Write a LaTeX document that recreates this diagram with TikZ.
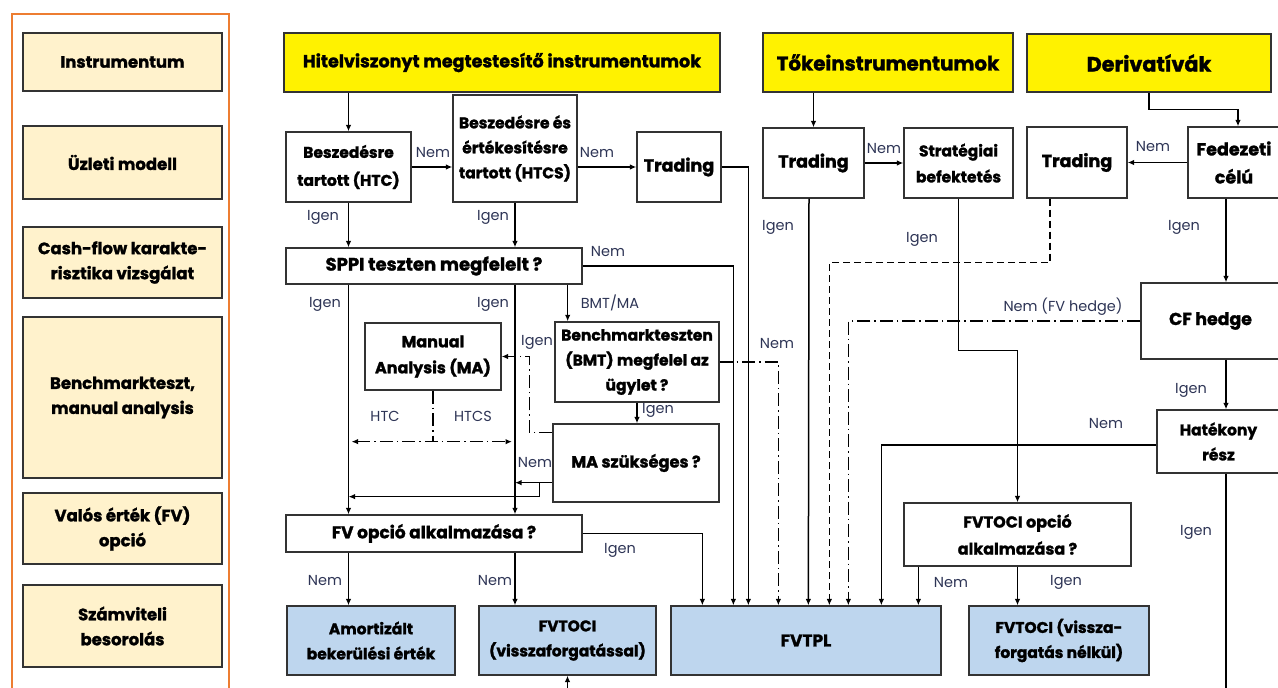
\documentclass[tikz,border=0pt]{standalone}
\usepackage{fontspec}
\setmainfont{Poppins}[BoldFeatures={FakeBold=1.5}]
\usetikzlibrary{arrows.meta,positioning,calc}

\definecolor{frameor}{RGB}{237,125,49}
\definecolor{cream}{RGB}{255,242,204}
\definecolor{resblue}{RGB}{190,214,238}
\definecolor{labtext}{RGB}{45,52,85}

\tikzset{
  box/.style={draw=black!80, line width=1.3pt, fill=white, align=center, inner sep=1pt,
    font=\bfseries\fontsize{15.5}{25}\selectfont},
  ybox/.style={box, fill=yellow},
  lbox/.style={box, fill=cream, minimum width=199pt, font=\bfseries\fontsize{16.5}{25}\selectfont},
  rbox/.style={box, fill=resblue},
  lab/.style={font=\fontsize{14.5}{16}\selectfont, text=labtext, inner sep=0pt},
  conn/.style={line width=1.5pt, ->},
  ddline/.style={line width=1.5pt, dash pattern=on 13pt off 4pt on 1.5pt off 4pt},
  dline/.style={line width=1.5pt, dash pattern=on 7pt off 4pt},
}

\begin{document}
\begin{tikzpicture}[x=1pt, y=-1pt, >={Latex[length=6.5pt,width=5.5pt]}]
  \useasboundingbox (0,0) rectangle (1278,688);
  % left column
  \draw[frameor, line width=2.5pt] (12,14) rectangle (229,700);
  \foreach \n/\y/\h/\t in {1/62/58/Instrumentum, 2/162.5/73/{Üzleti modell},
      3/262.5/71/{Cash-flow karakte-\\risztika vizsgálat}, 4/397.5/161/{Benchmarkteszt,\\manual analysis},
      5/528.5/71/{Valós érték (FV)\\opció}, 6/626/82/{Számviteli\\besorolás}}
    \node[lbox, minimum height=\h pt] (l\n) at (122.5,\y) {\t};

  % instrument groups
  \node[ybox, minimum width=436pt, minimum height=59pt, font=\bfseries\fontsize{17.5}{20}\selectfont] (hit) at (502,62.5) {Hitelviszonyt megtestesítő instrumentumok};
  \node[ybox, minimum width=250pt, minimum height=59pt, font=\bfseries\fontsize{19.8}{22}\selectfont] (toke) at (888,62.5) {Tőkeinstrumentumok};
  \node[ybox, minimum width=244pt, minimum height=58pt, font=\bfseries\fontsize{20.7}{22}\selectfont] (deriv) at (1149,63) {Derivatívák};

  % business model
  \node[box, minimum width=125pt, minimum height=70pt, font=\bfseries\fontsize{15.5}{28}\selectfont] (htc) at (348.5,167) {Beszedésre\\tartott (HTC)};
  \node[box, minimum width=124pt, minimum height=107pt] (htcs) at (515,148.5) {Beszedésre és\\értékesítésre\\tartott (HTCS)};
  \node[box, minimum width=84pt, minimum height=70pt, font=\bfseries\fontsize{17.5}{20}\selectfont] (trad1) at (679,167) {Trading};
  \node[box, minimum width=101pt, minimum height=70pt, font=\bfseries\fontsize{17.5}{20}\selectfont] (trad2) at (813.5,163) {Trading};
  \node[box, minimum width=109pt, minimum height=70pt, font=\bfseries\fontsize{15.5}{26}\selectfont] (strat) at (958.5,163) {Stratégiai\\befektetés};
  \node[box, minimum width=100pt, minimum height=71pt, font=\bfseries\fontsize{17.5}{20}\selectfont] (trad3) at (1077,162.5) {Trading};
  \node[box, minimum width=92pt, minimum height=71pt, font=\bfseries\fontsize{17.5}{28}\selectfont] (fed) at (1234,162.5) {Fedezeti\\célú};

  % tests
  \node[box, minimum width=296pt, minimum height=36pt, font=\bfseries\fontsize{18}{20}\selectfont] (sppi) at (434,266) {SPPI teszten megfelelt ?};
  \node[box, minimum width=136pt, minimum height=67pt, font=\bfseries\fontsize{16}{26}\selectfont] (ma) at (433,356.5) {Manual\\Analysis (MA)};
  \node[box, minimum width=164pt, minimum height=80pt] (bmt) at (637,362) {Benchmarkteszten\\(BMT) megfelel az\\ügylet ?};
  \node[box, minimum width=166pt, minimum height=78pt, font=\bfseries\fontsize{16.2}{20}\selectfont] (masz) at (636,463) {MA szükséges ?};
  \node[box, minimum width=139pt, minimum height=76pt, font=\bfseries\fontsize{17.3}{20}\selectfont] (cf) at (1210.5,321) {CF hedge};
  \node[box, minimum width=123pt, minimum height=63pt] (hat) at (1218.5,441.5) {Hatékony\\rész};
  \node[box, minimum width=296pt, minimum height=37pt, font=\bfseries\fontsize{17}{20}\selectfont] (fvop) at (434,533.5) {FV opció alkalmazása ?};
  \node[box, minimum width=227pt, minimum height=63pt, font=\bfseries\fontsize{16}{27}\selectfont] (fvtociop) at (1017.5,534.5) {FVTOCI opció\\alkalmazása ?};

  % classification
  \node[rbox, minimum width=168pt, minimum height=69pt] (amort) at (371,640.5) {Amortizált\\bekerülési érték};
  \node[rbox, minimum width=177pt, minimum height=69pt] (fvtoci) at (567.5,640.5) {FVTOCI\\(visszaforgatással)};
  \node[rbox, minimum width=270pt, minimum height=69pt, font=\bfseries\fontsize{17}{20}\selectfont] (fvtpl) at (806,640.5) {FVTPL};
  \node[rbox, minimum width=180pt, minimum height=69pt] (fvtociv) at (1059,640.5) {FVTOCI (vissza-\\forgatás nélkül)};

  % debt instruments
  \draw[conn] (hit.south -| htc.north) -- (htc.north);
  \draw[conn] (htc.east) -- (htc.east -| htcs.west);
  \draw[conn] (htcs.east |- trad1) -- (trad1.west);
  \draw[conn] (trad1.east) -| ($(fvtpl.north west)+(78,0)$);
  \draw[conn] (htc.south) -- (htc.south |- sppi.north);
  \draw[conn] (htcs.south) -- (htcs.south |- sppi.north);
  \draw[conn] (sppi.east) -| ($(fvtpl.north west)+(63,0)$);
  \draw[conn] (sppi.south -| htc.south) -- (fvop.north -| htc.south);
  \draw[conn] (sppi.south -| htcs.south) -- (fvop.north -| htcs.south);
  \coordinate (bm) at ($(sppi.south east)+(-15,0)$);
  \draw[conn] (bm) -- (bm |- bmt.north);
  \draw[conn] (bmt.south) -- (bmt.south |- masz.north);
  \draw[ddline, ->] ($(masz.north west)+(0,9)$) -- ++(-23,0) |- (ma.east);
  \draw[ddline] (ma.south) -- ++(0,51) coordinate (mb);
  \draw[ddline, <->, shorten <=3pt, shorten >=3pt] (mb -| htc.south) -- (mb -| htcs.south);
  \coordinate (mn) at ($(masz.south west)+(0,-20)$);
  \draw[conn] (mn) -- (mn -| htcs.south);
  \draw[conn] ($(mn)+(-13,0)$) -- ++(0,14) coordinate (mm) -- (mm -| htc.south);
  \draw[ddline, ->] (bmt.east) -| ($(fvtpl.north west)+(108,0)$);
  \draw[conn] (fvop.east) -| ($(fvtpl.north west)+(32,0)$);
  \draw[conn] (fvop.south -| htc.south) -- (amort.north -| htc.south);
  \draw[conn] (fvop.south -| htcs.south) -- (fvtoci.north -| htcs.south);
  \draw[conn] ($(fvtoci.south)+(0,15)$) -- (fvtoci.south);

  % equity instruments
  \draw[conn] (toke.south -| trad2) -- (trad2.north);
  \draw[conn] (trad2.east) -- (strat.west);
  \draw[conn] ($(trad2.south)+(-4.5,0)$) -- ($(fvtpl.north west)+(138,0)$);
  \draw[conn] (strat.south) -- ++(0,152) -| (fvtociop.north);
  \draw[conn] ($(fvtociop.south west)+(15,0)$) -- ($(fvtpl.north west)+(248,0)$);
  \draw[conn] (fvtociop.south) -- (fvtociop.south |- fvtociv.north);

  % derivatives
  \draw[conn] (deriv.south) -- ++(0,17) -| ($(fed.north)+(4,0)$);
  \draw[conn] (fed.west) -- (trad3.east);
  \draw[dline, ->] ($(trad3.south)+(-27,0)$) -- ++(0,64) -| ($(fvtpl.north west)+(159,0)$);
  \draw[conn] ($(fed.south)+(-8,0)$) -- ($(cf.north)+(15.5,0)$);
  \draw[ddline, ->] (cf.west) -| ($(fvtpl.north west)+(178,0)$);
  \draw[conn] ($(cf.south)+(15.5,0)$) -- ($(hat.north)+(7.5,0)$);
  \draw[conn] ($(hat.west)+(0,3.5)$) -| ($(fvtpl.north west)+(211,0)$);
  \draw[line width=1.5pt] ($(hat.south)+(7.5,0)$) -- ++(0,240);

  % branch labels
  \foreach \x/\y/\t [count=\i] in {433/153/Nem, 597/153/Nem, 323/217/Igen, 493/217/Igen, 608/252/Nem,
      325/304/Igen, 493/304/Igen, 610/303/BMT{/}MA, 537/342/Igen, 658/410/Igen, 385/416/HTC, 473/416/HTCS,
      535/463/Nem, 777/344/Nem, 620/550/Igen, 325/580/Nem, 495/580/Nem,
      884/149/Nem, 778/227/Igen, 922/239/Igen, 1153/147/Nem, 1184/227/Igen, 1063/307/{Nem (FV hedge)},
      1191/390/Igen, 1106/424/Nem, 1196/532/Igen, 951/582/Nem, 1066/582/Igen}
    \node[lab] (lab\i) at (\x,\y) {\t};
\end{tikzpicture}
\end{document}
